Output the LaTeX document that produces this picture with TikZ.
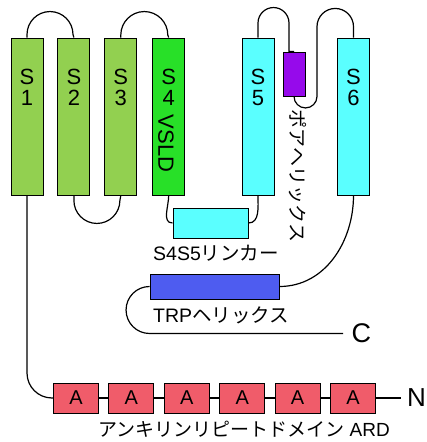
\documentclass[tikz,border=0pt]{standalone}
\usepackage{fontspec}
\setmainfont{Liberation Sans}
\newfontfamily\jpfont{Noto Sans CJK JP}
\usetikzlibrary{positioning}

\definecolor{helixgreen}{RGB}{146,208,80}
\definecolor{vsldgreen}{RGB}{40,224,40}
\definecolor{helixcyan}{RGB}{90,255,255}
\definecolor{porepurple}{RGB}{150,10,235}
\definecolor{trpblue}{RGB}{78,92,240}
\definecolor{ankred}{RGB}{240,92,106}

\begin{document}
\begin{tikzpicture}
        [
            x = 1pt, y = 1pt,
            box/.style = {draw, line width=0.9pt, inner sep=0pt},
            helix/.style = {box, minimum width=32pt, minimum height=157pt},
            ank/.style = {box, fill=ankred, minimum width=45pt, minimum height=30pt,
                font=\fontsize{20}{20}\selectfont},
            helixtext/.style = {inner sep=0pt, align=center,
                font=\fontsize{22}{21}\selectfont},
            lbl/.style = {inner sep=0pt, font=\fontsize{19.5}{19.5}\selectfont},
            loop/.style = {line width=1.2pt},
        ]
        \useasboundingbox (0,0) rectangle (427,442);

        % transmembrane helices
        \node[helix, fill=helixgreen] (s1) at (27,325.5) {};
        \node[helix, fill=helixgreen, right=14pt of s1] (s2) {};
        \node[helix, fill=helixgreen, right=14pt of s2] (s3) {};
        \node[helix, fill=vsldgreen, right=15pt of s3] (s4) {};
        \node[helix, fill=helixcyan] (s5) at (258,325.5) {};
        \node[helix, fill=helixcyan] (s6) at (353.5,325.5) {};
        \node[box, fill=porepurple, minimum width=22pt, minimum height=44pt] (pore) at (294,368) {};

        \node[helixtext, below=31pt of s1.north] (s1t) {S\\1};
        \node[helixtext, below=31pt of s2.north] (s2t) {S\\2};
        \node[helixtext, below=31pt of s3.north] (s3t) {S\\3};
        \node[helixtext, below=31pt of s4.north] (s4t) {S\\4};
        \node[helixtext, rotate=-90] (s4v) at (166,298.5) {VSLD};
        \node[helixtext, below=31pt of s5.north] (s5t) {S\\5};
        \node[helixtext, below=31pt of s6.north] (s6t) {S\\6};

        % linker, TRP helix
        \node[box, fill=helixcyan, minimum width=75pt, minimum height=30pt] (link) at (210.5,219) {};
        \node[box, fill=trpblue, minimum width=129pt, minimum height=25pt] (trp) at (214.5,155.5) {};
        \node[lbl, anchor=west] (linklbl) at (153,189) {S4S5{\jpfont リンカー}};
        \node[lbl, anchor=west] (trplbl) at (153,127) {TRP{\jpfont ヘリックス}};
        \node[lbl, rotate=-90, font=\fontsize{19}{19}\jpfont] (porelbl) at (298,266) {ポアヘリックス};

        % ankyrin repeats
        \node[ank] (a1) at (76,44) {A};
        \node[ank, right=9.5pt of a1] (a2) {A};
        \node[ank, right=9.5pt of a2] (a3) {A};
        \node[ank, right=9.5pt of a3] (a4) {A};
        \node[ank, right=9.5pt of a4] (a5) {A};
        \node[ank, right=9.5pt of a5] (a6) {A};
        \coordinate[right=25pt of a6] (nend);
        \node[inner sep=0pt, right=6pt of nend, font=\fontsize{26}{26}\selectfont] (nterm) {N};
        \coordinate (cend) at (343,108.5);
        \node[inner sep=0pt, right=8.5pt of cend, font=\fontsize{27}{27}\selectfont] (cterm) {C};
        \node[lbl, font=\fontsize{19}{19}\selectfont] (ardlbl) at (244,13) {{\jpfont アンキリンリピートドメイン} ARD};

        % loops
        \draw[loop] (s1.north) -- ++(0,3) arc[start angle=180, end angle=0, radius=23] -- (s2.north);
        \draw[loop] (s3.north) -- ++(0,2.5) arc[start angle=180, end angle=0, radius=23.5] -- (s4.north);
        \draw[loop] (s2.south) -- ++(0,-5) arc[start angle=180, end angle=360, radius=23] -- (s3.south);
        \draw[loop] (s4.south) to[out=-90, in=180] (link.west);
        \draw[loop] (link.east) to[out=0, in=-90] (s5.south);
        \draw[loop] (s5.north) -- ++(0,14.5) arc[start angle=180, end angle=0, radius=15.5] |- (pore.north);
        \draw[loop] (pore.south) arc[start angle=180, end angle=360, radius=11.5]
            -- ++(0,69.75) arc[start angle=180, end angle=0, radius=18.25] -- (s6.north);
        \draw[loop] (s6.south) to[out=-90, in=0] (trp.east);
        \draw[loop] (trp.west) arc[start angle=90, end angle=270, radius=23.5] -- (cend);
        \draw[loop, rounded corners=25pt] (s1.south) |- (a1.west);
        \draw[loop] (a1) -- (a2);
        \draw[loop] (a2) -- (a3);
        \draw[loop] (a3) -- (a4);
        \draw[loop] (a4) -- (a5);
        \draw[loop] (a5) -- (a6);
        \draw[loop] (a6) -- (nend);
    \end{tikzpicture}
\end{document}
